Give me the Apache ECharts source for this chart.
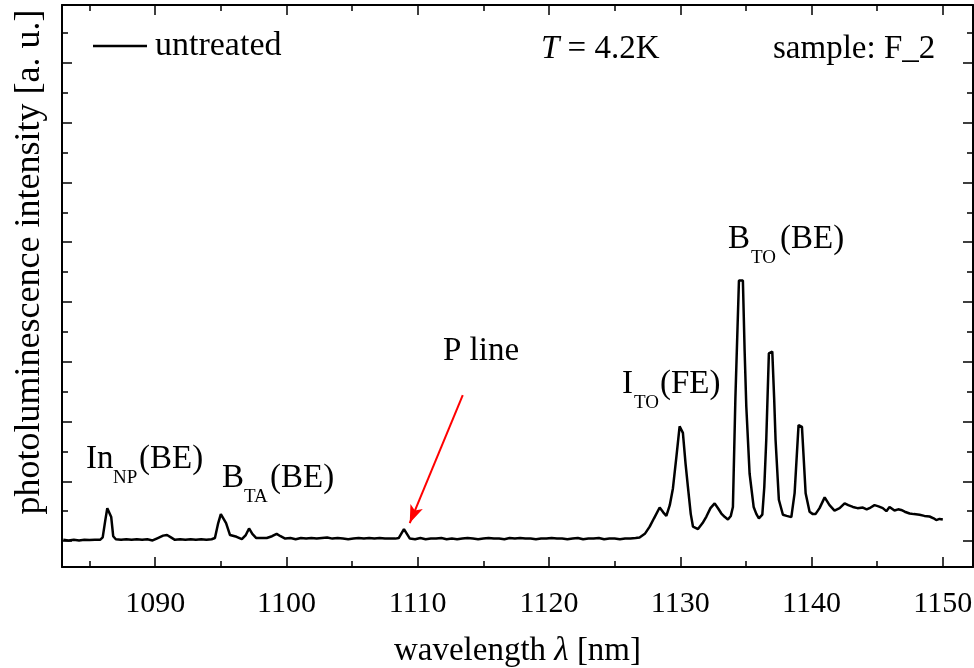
<!DOCTYPE html>
<html>
<head>
<meta charset="utf-8">
<script src="https://cdn.jsdelivr.net/npm/echarts@6.0.0/dist/echarts.min.js"></script>
<style>
html,body{margin:0;padding:0;background:#fff;}
#chart{width:974px;height:668px;}
</style>
</head>
<body>
<div id="chart"></div>
<script>
// ---- data ----
const wavelength = [
1083.0,1083.4,1083.8,1084.2,1084.6,1085.0,1085.4,1085.8,1086.0,1086.2,1086.35,1086.5,1086.65,1086.8,1087.0,1087.4,1087.8,1088.2,1088.6,1089.0,1089.4,1089.8,
1090.2,1090.6,1090.9,1091.2,1091.5,1091.9,1092.3,1092.7,1093.1,1093.5,1093.9,1094.3,1094.55,1094.8,1095.0,1095.15,1095.4,1095.7,1096.2,1096.6,1096.9,1097.15,1097.4,1097.7,1098.1,1098.5,1098.9,1099.25,1099.55,1099.9,
1100.3,1100.7,1101.1,1101.5,1101.9,1102.3,1102.7,1103.1,1103.5,1103.9,1104.3,1104.7,1105.1,1105.5,1105.9,1106.3,1106.7,1107.1,1107.5,1107.9,1108.3,1108.55,1108.95,1109.4,1109.8,
1110.2,1110.6,1111.0,1111.4,1111.8,1112.2,1112.6,1113.0,1113.4,1113.8,1114.2,1114.6,1115.0,1115.4,1115.8,1116.2,1116.6,1117.0,1117.4,1117.8,1118.2,1118.6,1119.0,1119.4,1119.8,
1120.2,1120.6,1121.0,1121.4,1121.8,1122.2,1122.6,1123.0,1123.4,1123.8,1124.2,1124.6,1125.0,1125.4,1125.8,1126.2,1126.6,1126.9,1127.3,1127.67,1128.0,1128.43,1128.7,1128.94,1129.2,1129.44,1129.7,1129.95,
1130.2,1130.4,1130.58,1130.8,1130.97,1131.35,1131.7,1131.99,1132.3,1132.62,1132.9,1133.13,1133.4,1133.63,1133.85,1134.01,1134.2,1134.47,1134.77,1134.9,1135.03,1135.28,1135.59,1135.8,1135.99,1136.25,1136.4,1136.55,1136.75,1137.01,1137.15,1137.26,1137.51,1137.82,1138.1,1138.46,1138.71,1139.01,1139.27,1139.55,1139.85,
1140.1,1140.3,1140.61,1141.0,1141.37,1141.75,1142.14,1142.52,1142.8,1143.15,1143.5,1143.91,1144.2,1144.5,1144.8,1145.1,1145.43,1145.7,1145.94,1146.32,1146.6,1146.83,1147.1,1147.47,1147.8,1148.23,1148.6,1148.99,1149.3,1149.5,1149.75,1150.0
];
const intensity = [
0.02,0.01,0.02,0.01,0.02,0.015,0.02,0.02,0.06,0.35,0.55,0.55,0.4,0.08,0.03,0.02,0.03,0.02,0.03,0.02,0.03,0.01,
0.05,0.09,0.10,0.06,0.02,0.03,0.02,0.03,0.02,0.03,0.02,0.03,0.05,0.30,0.45,0.45,0.30,0.10,0.07,0.03,0.10,0.21,0.12,0.05,0.05,0.05,0.08,0.12,0.08,0.04,
0.05,0.03,0.05,0.04,0.05,0.04,0.05,0.06,0.04,0.05,0.04,0.03,0.04,0.05,0.04,0.05,0.04,0.05,0.04,0.04,0.04,0.05,0.20,0.04,0.03,
0.05,0.03,0.04,0.04,0.05,0.03,0.04,0.03,0.04,0.05,0.04,0.03,0.04,0.05,0.04,0.04,0.03,0.05,0.04,0.05,0.04,0.04,0.03,0.04,0.04,
0.05,0.04,0.04,0.03,0.04,0.05,0.03,0.04,0.04,0.05,0.03,0.04,0.04,0.03,0.04,0.04,0.05,0.06,0.12,0.24,0.38,0.56,0.48,0.42,0.60,0.88,1.40,1.92,
1.81,1.30,0.91,0.45,0.24,0.20,0.30,0.41,0.55,0.63,0.54,0.46,0.40,0.36,0.42,0.57,2.40,4.36,4.36,3.20,2.25,1.13,0.57,0.45,0.38,0.44,0.90,1.69,3.14,3.17,2.40,1.69,0.69,0.44,0.42,0.40,0.80,1.94,1.91,0.80,0.49,
0.45,0.45,0.55,0.73,0.60,0.51,0.55,0.63,0.60,0.57,0.55,0.56,0.53,0.56,0.60,0.58,0.55,0.50,0.57,0.51,0.53,0.52,0.49,0.46,0.45,0.44,0.42,0.41,0.38,0.35,0.37,0.36
];
const xMajorTicks = [1090,1100,1110,1120,1130,1140,1150];
const xMinorTicks = [1085,1095,1105,1115,1125,1135,1145];
const yMajorTicks = [0,1,2,3,4,5,6,7,8];
const yMinorTicks = [0.5,1.5,2.5,3.5,4.5,5.5,6.5,7.5,8.5];
const xRange = [1082.9, 1152.3];
const yRange = [-0.435, 8.97];
const seriesName = 'untreated';
const arrowFrom = [1113.43, 2.44];
const arrowTo = [1109.39, 0.30];

// ---- chart ----
const FONT = '"Liberation Serif", "Times New Roman", serif';
const chart = echarts.init(document.getElementById('chart'), null, {renderer: 'canvas'});
const points = wavelength.map((w, i) => [w, intensity[i]]);

function xAx(pos, ticks, len, showLabel, showLine, extra) {
  return Object.assign({
    type: 'value', position: pos, min: xRange[0], max: xRange[1],
    axisLine: {show: showLine, onZero: false, lineStyle: {color: '#000', width: 2}},
    axisTick: {show: true, inside: true, length: len, customValues: ticks, lineStyle: {color: '#000', width: 1.5}},
    axisLabel: {show: showLabel, customValues: ticks, margin: 22, color: '#000', fontSize: 30, fontFamily: FONT,
      formatter: v => String(v)},
    splitLine: {show: false}
  }, extra || {});
}
function yAx(pos, ticks, len, showLine, extra) {
  return Object.assign({
    type: 'value', position: pos, min: yRange[0], max: yRange[1],
    axisLine: {show: showLine, onZero: false, lineStyle: {color: '#000', width: 2}},
    axisTick: {show: true, inside: true, length: len, customValues: ticks, lineStyle: {color: '#000', width: 1.5}},
    axisLabel: {show: false},
    splitLine: {show: false}
  }, extra || {});
}

const textBase = {fill: '#000', fontFamily: FONT, verticalAlign: 'middle', align: 'left'};
function t(x, y, text, size, extra) {
  return {type: 'text', x: x, y: y, silent: true,
    style: Object.assign({}, textBase, {text: text, fontSize: size}, extra || {})};
}
const M = 33, S = 19;

const option = {
  animation: false,
  backgroundColor: '#fff',
  grid: {left: 62, right: 1, top: 5, bottom: 101, outerBoundsMode: 'none', containLabel: false},
  xAxis: [
    xAx('bottom', xMajorTicks, 10, true, true, {
      name: 'wavelength {i|λ} [nm]', nameLocation: 'middle', nameGap: 68,
      nameTextStyle: {color: '#000', fontSize: 33, fontFamily: FONT,
        rich: {i: {fontStyle: 'italic', fontSize: 33, fontFamily: FONT, color: '#000'}}}
    }),
    xAx('bottom', xMinorTicks, 6, false, false),
    xAx('top', xMajorTicks, 10, false, true),
    xAx('top', xMinorTicks, 6, false, false)
  ],
  yAxis: [
    yAx('left', yMajorTicks, 10, true, {
      name: 'photoluminescence intensity [a. u.]', nameLocation: 'middle', nameGap: 14,
      nameTextStyle: {color: '#000', fontSize: 36, fontFamily: FONT, padding: [0, 0, 0, 48]}
    }),
    yAx('left', yMinorTicks, 6, false),
    yAx('right', yMajorTicks, 10, true),
    yAx('right', yMinorTicks, 6, false)
  ],
  legend: {
    data: [seriesName], left: 93, top: 29, padding: 0,
    icon: 'rect', itemWidth: 54, itemHeight: 2.5,
    textStyle: {color: '#000', fontSize: 34, fontFamily: FONT, padding: [0, 0, 0, 3]}
  },
  series: [{
    name: seriesName, type: 'line', data: points,
    xAxisIndex: 0, yAxisIndex: 0,
    showSymbol: false, symbol: 'none', smooth: false,
    color: '#000',
    lineStyle: {color: '#000', width: 2.5},
    markLine: {
      silent: true, symbol: ['none', 'arrow'], symbolSize: [10, 18],
      lineStyle: {color: '#ff0000', width: 2, type: 'solid'},
      label: {show: false},
      data: [[{coord: arrowFrom}, {coord: arrowTo}]]
    }
  }],
  graphic: [
    t(86, 459, 'In', M), t(113, 478, 'NP', S), t(139, 459, '(BE)', M),
    t(222, 478, 'B', M), t(244, 497, 'TA', S), t(270, 478, '(BE)', M),
    t(443, 351, 'P line', M),
    t(622, 384, 'I', M), t(634, 403, 'TO', S), t(660, 384, '(FE)', M),
    t(728, 239, 'B', M), t(751, 258, 'TO', S), t(780, 239, '(BE)', M),
    {type: 'text', x: 541, y: 49, silent: true,
      style: Object.assign({}, textBase, {text: '{i|T} = 4.2K', fontSize: M,
        rich: {i: {fontStyle: 'italic', fontSize: M, fontFamily: FONT, fill: '#000'}}})},
    t(773, 49, 'sample: F_2', M)
  ]
};
chart.setOption(option);
</script>
</body>
</html>
